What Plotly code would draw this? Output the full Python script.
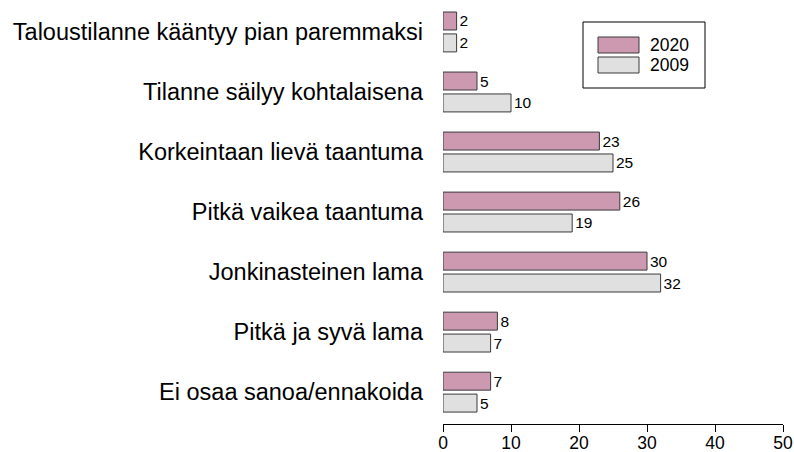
import plotly.graph_objects as go

categories = [
    "Taloustilanne kääntyy pian paremmaksi",
    "Tilanne säilyy kohtalaisena",
    "Korkeintaan lievä taantuma",
    "Pitkä vaikea taantuma",
    "Jonkinasteinen lama",
    "Pitkä ja syvä lama",
    "Ei osaa sanoa/ennakoida",
]
values_2020 = [2, 5, 23, 26, 30, 8, 7]
values_2009 = [2, 10, 25, 19, 32, 7, 5]
x_ticks = [0, 10, 20, 30, 40, 50]

PINK = "#CC99B0"
GREY = "#E0E0E0"
EDGE = "#3a3a3a"
FONT = "Liberation Sans, Arial, sans-serif"

fig = go.Figure()
for name, vals, col in [("2020", values_2020, PINK), ("2009", values_2009, GREY)]:
    fig.add_trace(go.Bar(
        y=categories, x=vals, name=name, orientation="h",
        marker=dict(color=col, line=dict(color=EDGE, width=1)),
        text=[str(v) for v in vals], textposition="outside",
        textfont=dict(size=15.5, color="black", family=FONT),
        cliponaxis=False, showlegend=False,
    ))

# legend drawn by hand, R style box
W, H = 794, 452
ml, mr, mt, mb = 443, 11, 5, 28
pw, ph = W - ml - mr, H - mt - mb


def px(x):
    return (x - ml) / pw


def py(y):
    return 1 - (y - mt) / ph


fig.add_shape(type="rect", xref="paper", yref="paper",
              x0=px(583), x1=px(705), y0=py(88), y1=py(22),
              line=dict(color="black", width=1), fillcolor="white")
for i, (name, col) in enumerate([("2020", PINK), ("2009", GREY)]):
    top = 37 + i * 20
    fig.add_shape(type="rect", xref="paper", yref="paper",
                  x0=px(598), x1=px(639), y0=py(top + 16), y1=py(top),
                  line=dict(color=EDGE, width=1), fillcolor=col)
    fig.add_annotation(xref="paper", yref="paper", x=px(648), y=py(top + 8),
                       text=name, showarrow=False, xanchor="left", yanchor="middle",
                       font=dict(size=17.5, color="black", family=FONT))

fig.update_layout(
    barmode="group", bargap=0.27, bargroupgap=0.18,
    width=W, height=H,
    margin=dict(l=ml, r=mr, t=mt, b=mb, autoexpand=False),
    plot_bgcolor="white", paper_bgcolor="white",
    font=dict(family=FONT, color="black"),
    xaxis=dict(range=[0, 50], tickvals=x_ticks, showgrid=False, zeroline=False,
               showline=True, linecolor="black", linewidth=1,
               ticks="outside", ticklen=7, tickcolor="black",
               ticklabelstandoff=-4, tickfont=dict(size=17.5)),
    yaxis=dict(range=[6.531, -0.449], showgrid=False, zeroline=False,
               showline=False, ticks="", ticklabelstandoff=19,
               tickfont=dict(size=23.5)),
)

fig.write_html("out.html", config={"displayModeBar": False},
               post_script="document.body.style.margin='0';")
